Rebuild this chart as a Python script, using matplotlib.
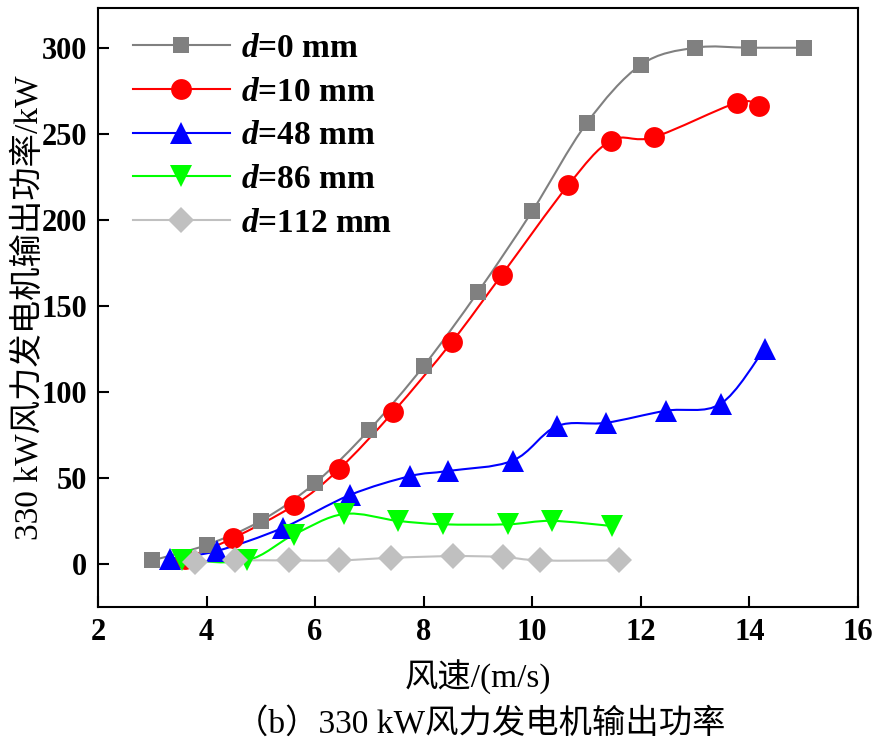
import matplotlib
matplotlib.use("Agg")
import matplotlib.pyplot as plt
from matplotlib.path import Path
from matplotlib.patches import PathPatch
import numpy as np

plt.rcParams['font.family'] = ['Liberation Serif', 'Noto Sans CJK SC']
plt.rcParams['mathtext.fontset'] = 'custom'
plt.rcParams['mathtext.it'] = 'Liberation Serif:italic:bold'
plt.rcParams['mathtext.rm'] = 'Liberation Serif:bold'

# wind speed (m/s) and output power (kW)
x_d0 = [3, 4, 5, 6, 7, 8, 9, 10, 11, 12, 13, 14, 15]
y_d0 = [2, 11, 25, 47, 78, 115, 158, 205, 256, 290, 300, 300, 300]

x_d10 = [3.6, 4.49, 5.61, 6.44, 7.43, 8.52, 9.44, 10.66, 11.45, 12.24, 13.77, 14.17]
y_d10 = [3, 15, 34, 55, 88, 129, 168, 220, 246, 248, 268, 266]

x_d48 = [3.33, 4.19, 5.41, 6.64, 7.75, 8.45, 9.64, 10.45, 11.36, 12.46, 13.47, 14.28]
y_d48 = [3, 7.5, 21, 40, 51, 54, 60, 80, 82, 89, 93, 125]

x_d86 = [3.55, 4.74, 5.61, 6.53, 7.52, 8.35, 9.55, 10.36, 11.47]
y_d86 = [2, 2, 17, 29, 25, 23, 23, 25, 22]

x_d112 = [3.79, 4.52, 5.52, 6.44, 7.4, 8.54, 9.46, 10.14, 11.6]
y_d112 = [1, 2, 2, 2, 3.5, 4.5, 4, 2, 2]

labels = ['$d$=0 mm', '$d$=10 mm', '$d$=48 mm', '$d$=86 mm', '$d$=112 mm']
colors = ['#808080', '#ff0000', '#0000ff', '#00ff00', '#c0c0c0']
markers = ['s', 'o', '^', 'v', 'D']
msizes = [12, 15, 16, 16, 13]


def smooth_path(xs, ys):
    # Catmull-Rom segments drawn as cubic Bezier curves
    xs = np.asarray(xs, float)
    ys = np.asarray(ys, float)
    n = len(xs)
    verts = [(xs[0], ys[0])]
    codes = [Path.MOVETO]
    for i in range(n - 1):
        p0 = np.array([xs[max(i - 1, 0)], ys[max(i - 1, 0)]])
        p1 = np.array([xs[i], ys[i]])
        p2 = np.array([xs[i + 1], ys[i + 1]])
        p3 = np.array([xs[min(i + 2, n - 1)], ys[min(i + 2, n - 1)]])
        c1 = p1 + (p2 - p0) / 6.0
        c2 = p2 - (p3 - p1) / 6.0
        verts += [tuple(c1), tuple(c2), tuple(p2)]
        codes += [Path.CURVE4] * 3
    return Path(verts, codes)


fig = plt.figure(figsize=(8.79, 7.41), dpi=100)
ax = fig.add_axes([0.1115, 0.181, 0.8645, 0.808])

series = [(x_d0, y_d0), (x_d10, y_d10), (x_d48, y_d48), (x_d86, y_d86), (x_d112, y_d112)]
for (xs, ys), lab, c, m, ms in zip(series, labels, colors, markers, msizes):
    ax.add_patch(PathPatch(smooth_path(xs, ys), facecolor='none', edgecolor=c, lw=1.5))
    ax.plot(xs, ys, linestyle='none', marker=m, color=c, markersize=ms, markeredgewidth=0)
    ax.plot([], [], color=c, lw=1.5, marker=m, markersize=ms, markeredgewidth=0, label=lab)

ax.set_xlim(2, 16)
ax.set_ylim(-25, 323)
ax.set_xticks(range(2, 17, 2))
ax.set_yticks(range(0, 301, 50))
ax.tick_params(direction='in', length=8, width=1.5, labelsize=22, pad=8)
for lbl in ax.get_xticklabels() + ax.get_yticklabels():
    lbl.set_fontweight('bold')
for s in ax.spines.values():
    s.set_linewidth(1.5)

ax.set_xlabel('风速/(m/s)', fontsize=24, labelpad=9)
ax.set_ylabel('330 kW风力发电机输出功率/kW', fontsize=24, labelpad=-3)

ax.legend(loc='upper left', frameon=False, fontsize=24, handlelength=2.9,
          labelspacing=0.38, borderaxespad=0.35, handletextpad=0.35,
          bbox_to_anchor=(0.013, 1.0), prop={'weight': 'bold', 'size': 24})

fig.text(0.546, 0.023, '（b）330 kW风力发电机输出功率', fontsize=24,
         ha='center', va='center')

fig.savefig('out.png', dpi=100)
